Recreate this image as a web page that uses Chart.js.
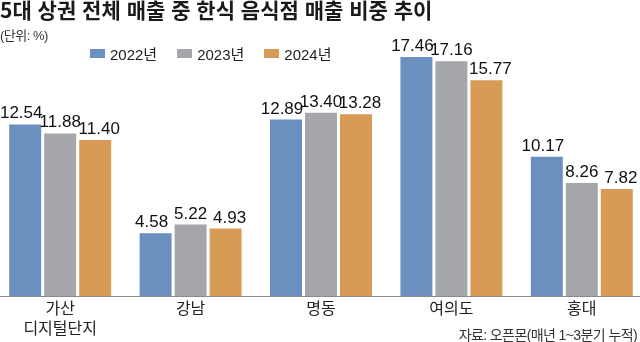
<!DOCTYPE html>
<html lang="ko">
<head>
<meta charset="utf-8">
<script src="https://cdn.jsdelivr.net/npm/chart.js@4/dist/chart.umd.min.js"></script>
<style>
    html, body { margin: 0; padding: 0; background: #fff; }
    body { width: 640px; height: 342px; position: relative; overflow: hidden; font-family: "Liberation Sans", "Noto Sans CJK KR", sans-serif; color: #1a1a1a; }
    #title { position: absolute; left: 0; top: -6px; font-family: "Noto Sans CJK KR", sans-serif; font-weight: bold; font-size: 21px; color: #1a1a1a; white-space: nowrap; }
    #unit { position: absolute; left: 0; top: 25px; font-size: 13px; color: #333; letter-spacing: -0.5px; }
    #legend { position: absolute; left: 90px; top: 43px; display: flex; }
    #legend .item { display: flex; align-items: center; margin-right: 20px; font-size: 15px; color: #222; }
    #legend .box { width: 15px; height: 9px; margin-right: 5px; }
    #source { position: absolute; right: 3px; top: 324px; font-size: 14px; color: #333; letter-spacing: -0.6px; }
    #wrap { position: absolute; left: -5px; top: 0; width: 652px; height: 342px; }
</style>
</head>
<body>
<div id="wrap"><canvas id="shareChart"></canvas></div>
<div id="title">5대 상권 전체 매출 중 한식 음식점 매출 비중 추이</div>
<div id="unit">(단위: %)</div>
<div id="legend"></div>
<div id="source">자료: 오픈몬(매년 1~3분기 누적)</div>
<script>
// 상권별 한식 음식점 매출 비중 (%)
const districts = [['가산', '디지털단지'], '강남', '명동', '여의도', '홍대'];
const years = ['2022년', '2023년', '2024년'];
const share2022 = [12.54, 4.58, 12.89, 17.46, 10.17];
const share2023 = [11.88, 5.22, 13.40, 17.16, 8.26];
const share2024 = [11.40, 4.93, 13.28, 15.77, 7.82];
const colors = ['#6b8fbe', '#a5a6aa', '#d89a57'];

// 막대 위 수치 라벨 (겹치지 않게 좌우로 조금씩 벌림)
const labelShift = [-4, 0, 4];
const valueLabels = {
    id: 'valueLabels',
    afterDatasetsDraw(chart) {
        const ctx = chart.ctx;
        ctx.save();
        ctx.font = '17px "Liberation Sans", sans-serif';
        ctx.fillStyle = '#111';
        ctx.textAlign = 'center';
        ctx.textBaseline = 'alphabetic';
        chart.data.datasets.forEach((ds, i) => {
            chart.getDatasetMeta(i).data.forEach((bar, j) => {
                ctx.fillText(ds.data[j].toFixed(2), bar.x + labelShift[i], bar.y - 6);
            });
        });
        ctx.restore();
    }
};

const legend = document.getElementById('legend');
years.forEach((y, i) => {
    const item = document.createElement('div');
    item.className = 'item';
    item.innerHTML = '<span class="box" style="background:' + colors[i] + '"></span>' + y;
    legend.appendChild(item);
});

new Chart(document.getElementById('shareChart'), {
    type: 'bar',
    data: {
        labels: districts,
        datasets: [share2022, share2023, share2024].map((d, i) => ({
            label: years[i],
            data: d,
            backgroundColor: colors[i],
            categoryPercentage: 0.805,
            barPercentage: 0.914
        }))
    },
    options: {
        responsive: true,
        maintainAspectRatio: false,
        animation: false,
        layout: { padding: { top: 36, left: 0, right: 0, bottom: 0 } },
        plugins: {
            legend: { display: false },
            tooltip: { enabled: false }
        },
        scales: {
            x: {
                grid: { display: false, drawTicks: false },
                border: { display: true, color: '#8a8a8a', width: 1 },
                ticks: {
                    color: '#222',
                    padding: 2,
                    font: { family: '"Noto Sans CJK KR", sans-serif', size: 16, lineHeight: 1.25 },
                    maxRotation: 0
                },
                afterFit(scale) { scale.height = 46; }
            },
            y: {
                display: false,
                min: 0,
                max: 19
            }
        }
    },
    plugins: [valueLabels]
});
</script>
</body>
</html>
